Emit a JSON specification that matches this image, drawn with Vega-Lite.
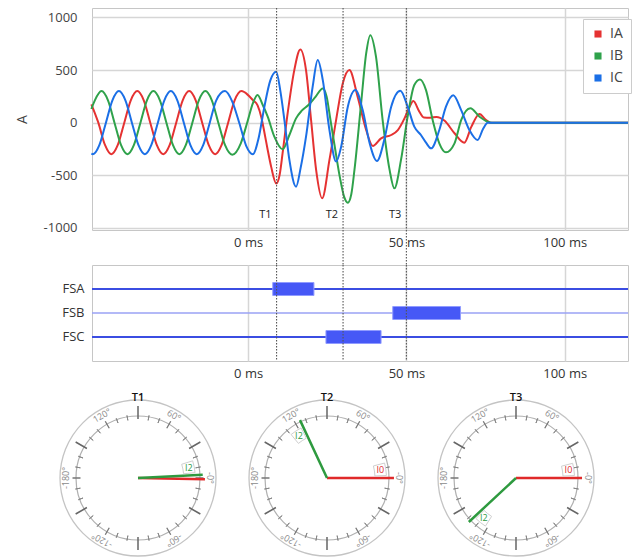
{
  "$schema": "https://vega.github.io/schema/vega-lite/v6.json",
  "padding": {"left": 14, "top": 6, "right": 0, "bottom": 0},
  "background": "white",
  "config": {
    "font": "Open Sans",
    "view": {"stroke": "#c6c6c6"},
    "axis": {"ticks": false, "domain": false, "labelFontSize": 13, "labelColor": "#333", "gridColor": "#d6d6d6", "gridWidth": 1.5, "titleFontWeight": "normal"}
  },
  "resolve": {"scale": {"color": "shared"}},
  "datasets": {
    "markers": [{"label": "T1", "t": 9}, {"label": "T2", "t": 30}, {"label": "T3", "t": 50}],
    "fs": [
      {"fs": "FSA", "start": 7.8, "end": 20.8},
      {"fs": "FSB", "start": 45.7, "end": 67.1},
      {"fs": "FSC", "start": 24.6, "end": 42.0}
    ],
    "dials": [{"dial": "T1"}, {"dial": "T2"}, {"dial": "T3"}],
    "ticks": [
      {"kind": "minor", "a": [10, 20, 40, 50, 70, 80, 100, 110, 130, 140, 160, 170, -10, -20, -40, -50, -70, -80, -100, -110, -130, -140, -160, -170], "dial": ["T1", "T2", "T3"]},
      {"kind": "mid", "a": [0, 60, 120, 180, -60, -120], "dial": ["T1", "T2", "T3"]},
      {"kind": "major", "a": [30, 90, 150, -30, -90, -150], "dial": ["T1", "T2", "T3"]}
    ],
    "dialLabels": [
      {"a": 60, "lbl": "60°", "dial": ["T1", "T2", "T3"]},
      {"a": 120, "lbl": "120°", "dial": ["T1", "T2", "T3"]},
      {"a": 0, "lbl": "-0°", "dial": ["T1", "T2", "T3"]},
      {"a": 180, "lbl": "-180°", "dial": ["T1", "T2", "T3"]},
      {"a": -60, "lbl": "-60°", "dial": ["T1", "T2", "T3"]},
      {"a": -120, "lbl": "-120°", "dial": ["T1", "T2", "T3"]}
    ],
    "phasors": [
      {"dial": "T1", "q": "I0", "a": -1.1, "mag": 1.08},
      {"dial": "T2", "q": "I0", "a": 0, "mag": 1.08},
      {"dial": "T3", "q": "I0", "a": 0, "mag": 1.065},
      {"dial": "T1", "q": "I2", "a": 2.9, "mag": 1.045},
      {"dial": "T2", "q": "I2", "a": 115, "mag": 1.03},
      {"dial": "T3", "q": "I2", "a": -137, "mag": 1.04}
    ],
    "wave": [
      {"phase": "IA", "t": -49.5, "v": 175}, {"phase": "IA", "t": -47.3, "v": 0}, {"phase": "IA", "t": -45.2, "v": -212}, {"phase": "IA", "t": -43.2, "v": -300},
      {"phase": "IA", "t": -41.15, "v": -212}, {"phase": "IA", "t": -39.1, "v": 0}, {"phase": "IA", "t": -37.05, "v": 212}, {"phase": "IA", "t": -35.0, "v": 300},
      {"phase": "IA", "t": -32.95, "v": 212}, {"phase": "IA", "t": -30.9, "v": 0}, {"phase": "IA", "t": -28.85, "v": -212}, {"phase": "IA", "t": -26.8, "v": -300},
      {"phase": "IA", "t": -24.75, "v": -212}, {"phase": "IA", "t": -22.7, "v": 0}, {"phase": "IA", "t": -20.65, "v": 212}, {"phase": "IA", "t": -18.6, "v": 300},
      {"phase": "IA", "t": -16.55, "v": 212}, {"phase": "IA", "t": -14.5, "v": 0}, {"phase": "IA", "t": -12.45, "v": -212}, {"phase": "IA", "t": -10.4, "v": -300},
      {"phase": "IA", "t": -8.35, "v": -212}, {"phase": "IA", "t": -6.3, "v": 0}, {"phase": "IA", "t": -4.25, "v": 212}, {"phase": "IA", "t": -2.1, "v": 300},
      {"phase": "IA", "t": 0.0, "v": 262}, {"phase": "IA", "t": 1.5, "v": 215}, {"phase": "IA", "t": 3.0, "v": 165}, {"phase": "IA", "t": 4.2, "v": 50},
      {"phase": "IA", "t": 5.2, "v": -100}, {"phase": "IA", "t": 6.2, "v": -260}, {"phase": "IA", "t": 7.3, "v": -420}, {"phase": "IA", "t": 8.9, "v": -578},
      {"phase": "IA", "t": 10.0, "v": -490}, {"phase": "IA", "t": 10.9, "v": -290}, {"phase": "IA", "t": 12.5, "v": 90}, {"phase": "IA", "t": 14.6, "v": 500},
      {"phase": "IA", "t": 16.5, "v": 696}, {"phase": "IA", "t": 18.3, "v": 500}, {"phase": "IA", "t": 19.9, "v": 25}, {"phase": "IA", "t": 21.5, "v": -450},
      {"phase": "IA", "t": 23.4, "v": -718}, {"phase": "IA", "t": 25.7, "v": -354}, {"phase": "IA", "t": 27.8, "v": 25}, {"phase": "IA", "t": 29.9, "v": 373},
      {"phase": "IA", "t": 32.0, "v": 500}, {"phase": "IA", "t": 34.6, "v": 247}, {"phase": "IA", "t": 37.3, "v": -70}, {"phase": "IA", "t": 39.4, "v": -221},
      {"phase": "IA", "t": 42.0, "v": -149}, {"phase": "IA", "t": 45.2, "v": -117}, {"phase": "IA", "t": 47.3, "v": -70}, {"phase": "IA", "t": 49.4, "v": 41},
      {"phase": "IA", "t": 51.0, "v": 152}, {"phase": "IA", "t": 52.2, "v": 206}, {"phase": "IA", "t": 54.0, "v": 110}, {"phase": "IA", "t": 55.5, "v": 50},
      {"phase": "IA", "t": 57.5, "v": 48}, {"phase": "IA", "t": 59.5, "v": 55}, {"phase": "IA", "t": 62.0, "v": 20}, {"phase": "IA", "t": 65.2, "v": -100},
      {"phase": "IA", "t": 68.3, "v": -190}, {"phase": "IA", "t": 70.5, "v": -40}, {"phase": "IA", "t": 73.1, "v": 83}, {"phase": "IA", "t": 75.0, "v": 30},
      {"phase": "IA", "t": 76.5, "v": 0}, {"phase": "IA", "t": 120, "v": 0},

      {"phase": "IB", "t": -49.5, "v": 130}, {"phase": "IB", "t": -48.4, "v": 212}, {"phase": "IB", "t": -46.3, "v": 300}, {"phase": "IB", "t": -44.25, "v": 212},
      {"phase": "IB", "t": -42.2, "v": 0}, {"phase": "IB", "t": -40.15, "v": -212}, {"phase": "IB", "t": -38.1, "v": -300}, {"phase": "IB", "t": -36.05, "v": -212},
      {"phase": "IB", "t": -34.0, "v": 0}, {"phase": "IB", "t": -31.95, "v": 212}, {"phase": "IB", "t": -29.9, "v": 300}, {"phase": "IB", "t": -27.85, "v": 212},
      {"phase": "IB", "t": -25.8, "v": 0}, {"phase": "IB", "t": -23.75, "v": -212}, {"phase": "IB", "t": -21.7, "v": -300}, {"phase": "IB", "t": -19.65, "v": -212},
      {"phase": "IB", "t": -17.6, "v": 0}, {"phase": "IB", "t": -15.55, "v": 212}, {"phase": "IB", "t": -13.5, "v": 300}, {"phase": "IB", "t": -11.45, "v": 212},
      {"phase": "IB", "t": -9.4, "v": 0}, {"phase": "IB", "t": -7.3, "v": -212}, {"phase": "IB", "t": -5.0, "v": -305}, {"phase": "IB", "t": -2.3, "v": -196},
      {"phase": "IB", "t": -0.2, "v": 9}, {"phase": "IB", "t": 1.5, "v": 184}, {"phase": "IB", "t": 3.0, "v": 263}, {"phase": "IB", "t": 4.6, "v": 170},
      {"phase": "IB", "t": 6.2, "v": 57}, {"phase": "IB", "t": 8.3, "v": -133}, {"phase": "IB", "t": 10.9, "v": -253}, {"phase": "IB", "t": 13.05, "v": -117},
      {"phase": "IB", "t": 15.15, "v": 41}, {"phase": "IB", "t": 16.95, "v": 114}, {"phase": "IB", "t": 19.05, "v": 168}, {"phase": "IB", "t": 21.15, "v": 240},
      {"phase": "IB", "t": 23.6, "v": 326}, {"phase": "IB", "t": 24.8, "v": 250}, {"phase": "IB", "t": 26.0, "v": 30}, {"phase": "IB", "t": 27.5, "v": -250},
      {"phase": "IB", "t": 29.0, "v": -520}, {"phase": "IB", "t": 30.3, "v": -700}, {"phase": "IB", "t": 31.5, "v": -760}, {"phase": "IB", "t": 32.6, "v": -680},
      {"phase": "IB", "t": 33.6, "v": -449}, {"phase": "IB", "t": 35.7, "v": 184}, {"phase": "IB", "t": 37.3, "v": 658}, {"phase": "IB", "t": 38.6, "v": 832},
      {"phase": "IB", "t": 40.4, "v": 627}, {"phase": "IB", "t": 42.5, "v": 25}, {"phase": "IB", "t": 44.7, "v": -449}, {"phase": "IB", "t": 46.2, "v": -624},
      {"phase": "IB", "t": 48.3, "v": -354}, {"phase": "IB", "t": 50.4, "v": 57}, {"phase": "IB", "t": 52.5, "v": 358}, {"phase": "IB", "t": 54.3, "v": 411},
      {"phase": "IB", "t": 56.2, "v": 310}, {"phase": "IB", "t": 58.3, "v": 25}, {"phase": "IB", "t": 60.4, "v": -196}, {"phase": "IB", "t": 62.5, "v": -282},
      {"phase": "IB", "t": 65.2, "v": -196}, {"phase": "IB", "t": 67.3, "v": 25}, {"phase": "IB", "t": 70.2, "v": 136}, {"phase": "IB", "t": 73.1, "v": 57},
      {"phase": "IB", "t": 75.7, "v": 9}, {"phase": "IB", "t": 77.0, "v": 0}, {"phase": "IB", "t": 120, "v": 0},

      {"phase": "IC", "t": -49.5, "v": -295}, {"phase": "IC", "t": -49.0, "v": -300}, {"phase": "IC", "t": -46.95, "v": -212}, {"phase": "IC", "t": -44.9, "v": 0},
      {"phase": "IC", "t": -42.85, "v": 212}, {"phase": "IC", "t": -40.8, "v": 300}, {"phase": "IC", "t": -38.75, "v": 212}, {"phase": "IC", "t": -36.7, "v": 0},
      {"phase": "IC", "t": -34.65, "v": -212}, {"phase": "IC", "t": -32.6, "v": -300}, {"phase": "IC", "t": -30.55, "v": -212}, {"phase": "IC", "t": -28.5, "v": 0},
      {"phase": "IC", "t": -26.45, "v": 212}, {"phase": "IC", "t": -24.4, "v": 300}, {"phase": "IC", "t": -22.35, "v": 212}, {"phase": "IC", "t": -20.3, "v": 0},
      {"phase": "IC", "t": -18.25, "v": -212}, {"phase": "IC", "t": -16.2, "v": -300}, {"phase": "IC", "t": -14.15, "v": -212}, {"phase": "IC", "t": -12.1, "v": 0},
      {"phase": "IC", "t": -10.05, "v": 212}, {"phase": "IC", "t": -7.3, "v": 300}, {"phase": "IC", "t": -5.0, "v": 200}, {"phase": "IC", "t": -2.8, "v": 0},
      {"phase": "IC", "t": -0.6, "v": -220}, {"phase": "IC", "t": 1.5, "v": -300}, {"phase": "IC", "t": 3.3, "v": -150}, {"phase": "IC", "t": 5.15, "v": 152},
      {"phase": "IC", "t": 7.0, "v": 400}, {"phase": "IC", "t": 8.9, "v": 484}, {"phase": "IC", "t": 10.2, "v": 300}, {"phase": "IC", "t": 11.47, "v": 25},
      {"phase": "IC", "t": 13.05, "v": -354}, {"phase": "IC", "t": 15.15, "v": -608}, {"phase": "IC", "t": 16.6, "v": -430}, {"phase": "IC", "t": 18.3, "v": -133},
      {"phase": "IC", "t": 20.4, "v": 342}, {"phase": "IC", "t": 22.0, "v": 595}, {"phase": "IC", "t": 23.6, "v": 405}, {"phase": "IC", "t": 25.7, "v": -70},
      {"phase": "IC", "t": 27.8, "v": -370}, {"phase": "IC", "t": 29.4, "v": -228}, {"phase": "IC", "t": 31.5, "v": 152}, {"phase": "IC", "t": 33.9, "v": 310},
      {"phase": "IC", "t": 36.2, "v": 120}, {"phase": "IC", "t": 38.4, "v": -196}, {"phase": "IC", "t": 40.7, "v": -364}, {"phase": "IC", "t": 43.0, "v": -165},
      {"phase": "IC", "t": 45.2, "v": 152}, {"phase": "IC", "t": 48.1, "v": 304}, {"phase": "IC", "t": 50.4, "v": 152}, {"phase": "IC", "t": 52.5, "v": -38},
      {"phase": "IC", "t": 54.6, "v": -117}, {"phase": "IC", "t": 56.2, "v": -190}, {"phase": "IC", "t": 57.8, "v": -244}, {"phase": "IC", "t": 60.4, "v": -70},
      {"phase": "IC", "t": 62.5, "v": 152}, {"phase": "IC", "t": 64.8, "v": 260}, {"phase": "IC", "t": 67.3, "v": 120}, {"phase": "IC", "t": 69.9, "v": -70},
      {"phase": "IC", "t": 72.5, "v": -165}, {"phase": "IC", "t": 74.2, "v": -60}, {"phase": "IC", "t": 75.7, "v": 0}, {"phase": "IC", "t": 120, "v": 0}
    ]
  },
  "vconcat": [
    {
      "width": 536,
      "height": 222,
      "layer": [
        {
          "data": {"name": "wave"},
          "mark": {"type": "line", "interpolate": "monotone", "strokeWidth": 2},
          "encoding": {
            "x": {"field": "t", "type": "quantitative", "scale": {"domain": [-49.3, 120], "nice": false, "zero": false},
                  "axis": {"values": [0, 50, 100], "labelExpr": "datum.value + ' ms'", "title": null, "grid": true, "labelPadding": 6}},
            "y": {"field": "v", "type": "quantitative", "scale": {"domain": [-1020, 1090], "nice": false},
                  "axis": {"values": [-1000, -500, 0, 500, 1000], "labelExpr": "'' + datum.value", "title": "A", "titleFontSize": 14, "titleColor": "#444", "titlePadding": 14, "labelPadding": 15, "labelColor": "#444"}},
            "color": {"field": "phase", "type": "nominal", "scale": {"domain": ["IA", "IB", "IC"], "range": ["#e53232", "#2fa24b", "#1b6fe6"]},
                      "legend": {"orient": "none", "legendX": 491, "legendY": 11, "title": null, "fillColor": "white", "strokeColor": "#cccccc", "padding": 8,
                                 "symbolType": "square", "symbolSize": 50, "labelFontSize": 14, "labelColor": "#444", "rowPadding": 8, "labelOffset": 5,
                                 "encode": {"symbols": {"update": {"fill": {"scale": "color", "field": "value"}, "strokeWidth": {"value": 0}}}}}}
          }
        },
        {
          "data": {"name": "markers"},
          "mark": {"type": "rule", "color": "#555", "strokeWidth": 1.1, "strokeDash": [1.5, 1.5]},
          "encoding": {"x": {"field": "t", "type": "quantitative"}, "y": {"value": 0}, "y2": {"value": 257}}
        },
        {
          "data": {"name": "markers"},
          "mark": {"type": "text", "align": "right", "baseline": "middle", "dx": -5, "fontSize": 11, "color": "#222"},
          "encoding": {"x": {"field": "t", "type": "quantitative"}, "y": {"datum": -880}, "text": {"field": "label"}}
        }
      ]
    },
    {
      "width": 536,
      "height": 96,
      "data": {"name": "fs"},
      "layer": [
        {
          "mark": {"type": "rule"},
          "encoding": {
            "y": {"field": "fs", "type": "nominal", "scale": {"paddingInner": 0, "paddingOuter": 0.5},
                  "axis": {"title": null, "labelPadding": 8, "labelFontSize": 13, "labelColor": "#333"}},
            "color": {"condition": {"test": "datum.fs === 'FSB'", "value": "#9aa2f4"}, "value": "#3b4de2"},
            "strokeWidth": {"condition": {"test": "datum.fs === 'FSB'", "value": 1.3}, "value": 2}
          }
        },
        {
          "mark": {"type": "bar", "height": 13, "color": "#4658f6", "stroke": "#909bff", "strokeWidth": 1},
          "encoding": {
            "x": {"field": "start", "type": "quantitative", "scale": {"domain": [-49.3, 120], "nice": false, "zero": false},
                  "axis": {"values": [0, 50, 100], "labelExpr": "datum.value + ' ms'", "title": null, "grid": true, "labelPadding": 6}},
            "x2": {"field": "end"},
            "y": {"field": "fs", "type": "nominal"}
          }
        },
        {
          "data": {"name": "markers"},
          "mark": {"type": "rule", "color": "#555", "strokeWidth": 1.1, "strokeDash": [1.5, 1.5]},
          "encoding": {"x": {"field": "t", "type": "quantitative"}}
        }
      ]
    },
    {
      "width": 470,
      "height": 164,
      "view": {"stroke": null},
      "encoding": {
        "x": {"field": "dial", "type": "nominal", "scale": {"type": "point", "domain": ["T1", "T2", "T3"], "padding": 0.2434}, "axis": null}
      },
      "layer": [
        {
          "data": {"name": "dials"},
          "mark": {"type": "arc", "filled": false, "stroke": "#c4c4c4", "strokeWidth": 1.3},
          "encoding": {"theta": {"value": 0}, "theta2": {"value": 6.2832}, "radius": {"value": 78}}
        },
        {
          "data": {"name": "dials"},
          "mark": {"type": "arc", "filled": false, "stroke": "#b0b0b0", "strokeWidth": 1.2},
          "encoding": {"theta": {"value": 0}, "theta2": {"value": 6.2832}, "radius": {"value": 62}}
        },
        {
          "data": {"name": "ticks"},
          "transform": [{"flatten": ["a"]}, {"flatten": ["dial"]}, {"filter": "datum.kind === 'minor'"}],
          "mark": {"type": "arc", "filled": false, "stroke": "#888", "strokeWidth": 1},
          "encoding": {
            "theta": {"field": "a", "type": "quantitative", "stack": null, "scale": {"domain": [-180, 180], "range": [4.71238898, -1.57079633], "zero": false, "nice": false}},
            "theta2": {"field": "a"},
            "radius": {"value": 63.5}, "radius2": {"value": 58.5}
          }
        },
        {
          "data": {"name": "ticks"},
          "transform": [{"flatten": ["a"]}, {"flatten": ["dial"]}, {"filter": "datum.kind === 'mid'"}],
          "mark": {"type": "arc", "filled": false, "stroke": "#777", "strokeWidth": 1.3},
          "encoding": {
            "theta": {"field": "a", "type": "quantitative", "stack": null},
            "theta2": {"field": "a"},
            "radius": {"value": 65.5}, "radius2": {"value": 57.5}
          }
        },
        {
          "data": {"name": "ticks"},
          "transform": [{"flatten": ["a"]}, {"flatten": ["dial"]}, {"filter": "datum.kind === 'major'"}],
          "mark": {"type": "arc", "filled": false, "stroke": "#666", "strokeWidth": 1.5},
          "encoding": {
            "theta": {"field": "a", "type": "quantitative", "stack": null},
            "theta2": {"field": "a"},
            "radius": {"value": 72}, "radius2": {"value": 59}
          }
        },
        {
          "data": {"name": "dialLabels"},
          "transform": [{"flatten": ["dial"]}],
          "mark": {"type": "text", "align": "center", "baseline": "middle", "fontSize": 9, "color": "#8a8a8a"},
          "encoding": {
            "theta": {"field": "a", "type": "quantitative", "stack": null},
            "radius": {"value": 72},
            "angle": {"field": "a", "type": "quantitative", "scale": {"domain": [-180, 180], "range": [270, -90], "zero": false, "nice": false}},
            "text": {"field": "lbl"}
          }
        },
        {
          "data": {"name": "dials"},
          "mark": {"type": "text", "align": "center", "baseline": "middle", "fontSize": 11, "fontWeight": 600, "color": "#111"},
          "encoding": {"theta": {"value": 0}, "radius": {"value": 80}, "text": {"field": "dial"}}
        },
        {
          "data": {"name": "phasors"},
          "mark": {"type": "arc", "filled": false, "strokeWidth": 2.5, "strokeCap": "butt"},
          "encoding": {
            "theta": {"field": "a", "type": "quantitative", "stack": null},
            "theta2": {"field": "a"},
            "radius": {"field": "mag", "type": "quantitative", "scale": {"type": "linear", "domain": [0, 1], "range": [0, 62], "zero": true}},
            "radius2": {"value": 0},
            "stroke": {"condition": {"test": "datum.q === 'I2'", "value": "#2e9a3f"}, "value": "#e02a2a"}
          }
        },
        {
          "data": {"name": "phasors"},
          "transform": [{"filter": "datum.dial !== 'T1' || datum.q !== 'I0'"}],
          "mark": {"type": "arc", "fill": "white", "stroke": "#cfcfcf", "strokeWidth": 1, "thetaOffset": -0.254, "theta2Offset": -0.042, "radiusOffset": -7.5, "radius2Offset": -19},
          "encoding": {
            "theta": {"field": "a", "type": "quantitative", "stack": null},
            "theta2": {"field": "a"},
            "radius": {"field": "mag", "type": "quantitative"},
            "radius2": {"field": "mag"}
          }
        },
        {
          "data": {"name": "phasors"},
          "transform": [{"filter": "datum.dial !== 'T1' || datum.q !== 'I0'"}],
          "mark": {"type": "text", "align": "center", "baseline": "middle", "fontSize": 9, "radiusOffset": -13, "thetaOffset": -0.148},
          "encoding": {
            "theta": {"field": "a", "type": "quantitative", "stack": null},
            "radius": {"field": "mag", "type": "quantitative"},
            "text": {"field": "q"},
            "color": {"condition": {"test": "datum.q === 'I2'", "value": "#2e9a3f"}, "value": "#e02a2a"}
          }
        }
      ]
    }
  ],
  "spacing": 35,
  "bounds": "flush"
}
